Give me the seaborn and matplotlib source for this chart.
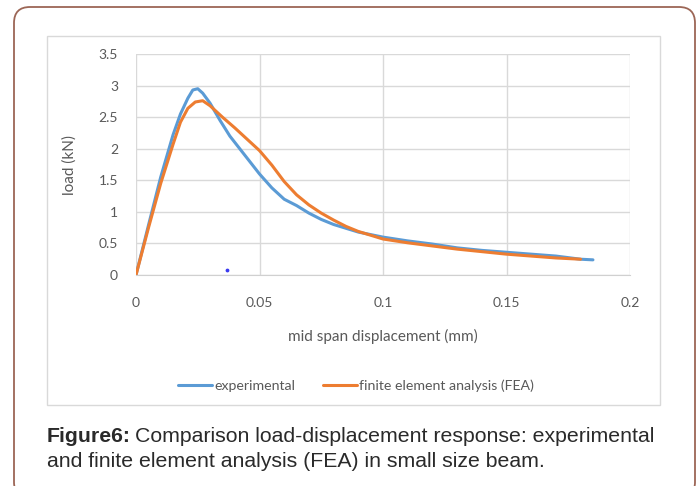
import matplotlib
matplotlib.use("Agg")
import matplotlib.pyplot as plt
import matplotlib.patches as mpatches
from matplotlib.transforms import IdentityTransform
import seaborn as sns
import pandas as pd

# experimental curve
exp_x = [0, 0.005, 0.010, 0.015, 0.018, 0.021, 0.023, 0.025, 0.027, 0.030, 0.034, 0.038,
         0.042, 0.046, 0.050, 0.055, 0.060, 0.065, 0.070, 0.075, 0.080, 0.085, 0.090,
         0.100, 0.110, 0.120, 0.130, 0.140, 0.150, 0.160, 0.170, 0.180, 0.185]
exp_y = [0, 0.78, 1.55, 2.22, 2.55, 2.8, 2.93, 2.95, 2.88, 2.72, 2.45, 2.2,
         2.0, 1.8, 1.6, 1.38, 1.2, 1.1, 0.98, 0.88, 0.8, 0.74, 0.68,
         0.6, 0.54, 0.49, 0.43, 0.39, 0.36, 0.33, 0.3, 0.25, 0.24]

# finite element analysis curve
fea_x = [0, 0.005, 0.010, 0.015, 0.018, 0.021, 0.024, 0.027, 0.030, 0.035, 0.040, 0.045,
         0.050, 0.055, 0.060, 0.065, 0.070, 0.075, 0.080, 0.085, 0.090, 0.100, 0.110,
         0.120, 0.130, 0.140, 0.150, 0.160, 0.170, 0.180]
fea_y = [0, 0.74, 1.45, 2.07, 2.42, 2.64, 2.74, 2.76, 2.68, 2.5, 2.33, 2.15,
         1.97, 1.74, 1.48, 1.27, 1.11, 0.98, 0.87, 0.77, 0.69, 0.57, 0.51,
         0.46, 0.41, 0.37, 0.33, 0.3, 0.27, 0.25]

# stray dot in the original figure
dot_x = [0.037]
dot_y = [0.08]

x_ticks = [0, 0.05, 0.1, 0.15, 0.2]
x_tick_labels = ["0", "0.05", "0.1", "0.15", "0.2"]
y_ticks = [0, 0.5, 1, 1.5, 2, 2.5, 3, 3.5]
y_tick_labels = ["0", "0.5", "1", "1.5", "2", "2.5", "3", "3.5"]

df_exp = pd.DataFrame({"x": exp_x, "y": exp_y})
df_fea = pd.DataFrame({"x": fea_x, "y": fea_y})

sns.set_style("white")
plt.rcParams["font.family"] = ["Lato", "DejaVu Sans"]

W, H = 696, 486
fig = plt.figure(figsize=(W / 100, H / 100), dpi=100)

# outer rounded frame and inner chart box (pixel coords)
outer = mpatches.FancyBboxPatch((14, -12), 681, 486 + 12 - 7,
                                boxstyle="round,pad=0,rounding_size=16",
                                transform=IdentityTransform(), fill=False,
                                edgecolor="#9c6656", linewidth=1.3)
fig.patches.append(outer)
inner = mpatches.Rectangle((47, H - 405), 613, 405 - 36, transform=IdentityTransform(),
                           fill=False, edgecolor="#d9d9d9", linewidth=1.0)
fig.patches.append(inner)

ax = fig.add_axes([136 / W, (H - 275) / H, (630 - 136) / W, (275 - 54) / H])

BLUE = "#5b9bd5"
ORANGE = "#ed7d31"
sns.lineplot(data=df_exp, x="x", y="y", ax=ax, color=BLUE, linewidth=2.2,
             label="experimental", sort=False)
sns.lineplot(data=df_fea, x="x", y="y", ax=ax, color=ORANGE, linewidth=2.2,
             label="finite element analysis (FEA)", sort=False)
ax.scatter(dot_x, dot_y, s=3, color="#3a3af0", zorder=3)

ax.set_xlim(0, 0.2)
ax.set_ylim(0, 3.5)
ax.set_xticks(x_ticks)
ax.set_xticklabels(x_tick_labels)
ax.set_yticks(y_ticks)
ax.set_yticklabels(y_tick_labels)
ax.grid(True, color="#d9d9d9", linewidth=1.0)
ax.set_axisbelow(True)
for s in ["top", "right", "left"]:
    ax.spines[s].set_visible(False)
ax.spines["bottom"].set_color("#d0d0d0")
ax.tick_params(axis="both", colors="#d0d0d0", labelcolor="#595959", labelsize=10,
               length=5, width=1, direction="out")
ax.tick_params(axis="x", pad=11)
ax.tick_params(axis="y", pad=8)

ax.set_xlabel("mid span displacement (mm)", color="#595959", fontsize=11, labelpad=14)
ax.set_ylabel("load (kN)", color="#595959", fontsize=11, labelpad=16)

ax.get_legend().remove()
handles, labels = ax.get_legend_handles_labels()
fig.legend(handles, labels, loc="center", bbox_to_anchor=(356 / W, 1 - 386 / H),
           ncol=2, frameon=False, fontsize=10.2, handlelength=2.4, handletextpad=0.1,
           columnspacing=2.0, labelcolor="#595959")

# caption
cap_font = ["Liberation Sans", "DejaVu Sans"]
cap_size = 15.3
t1 = fig.text(47 / W, 1 - 437 / H, "Figure6:", fontsize=cap_size, fontweight="bold",
              family=cap_font, color="#2a2a2a", va="center", ha="left")
fig.canvas.draw()
bb = t1.get_window_extent()
fig.text((bb.x1 + 4) / W, 1 - 437 / H,
         "Comparison load-displacement response: experimental",
         fontsize=cap_size, family=cap_font, color="#2a2a2a", va="center", ha="left")
fig.text(47 / W, 1 - 461 / H, "and finite element analysis (FEA) in small size beam.",
         fontsize=cap_size, family=cap_font, color="#2a2a2a", va="center", ha="left")

fig.savefig("out.png", dpi=100)
